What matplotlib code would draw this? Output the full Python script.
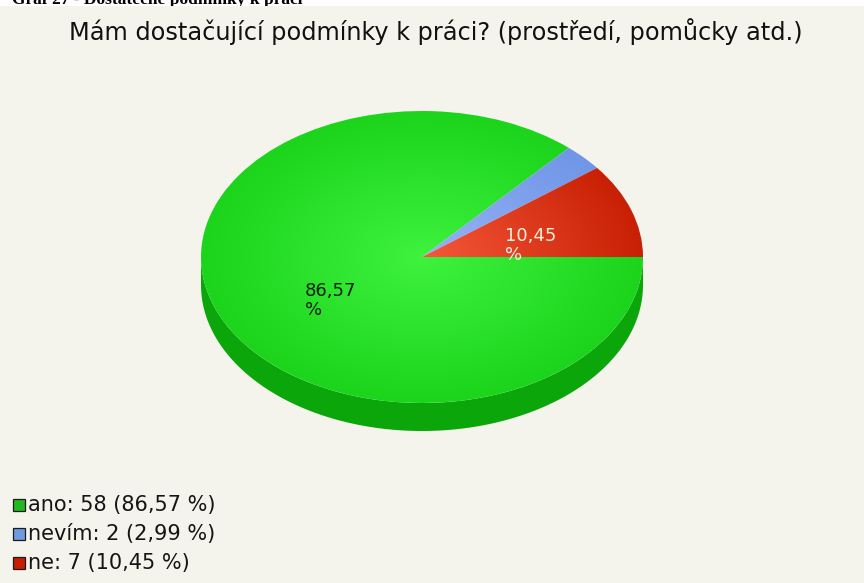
import numpy as np
import matplotlib
matplotlib.use("Agg")
import matplotlib.pyplot as plt
from matplotlib.patches import Polygon, Rectangle
from matplotlib.transforms import Bbox, TransformedBbox

# ---- data ----
categories = ["ano", "nevím", "ne"]
counts = [58, 2, 7]
percents = ["86,57", "2,99", "10,45"]
title = "Mám dostačující podmínky k práci? (prostředí, pomůcky atd.)"
caption = "Graf 27 - Dostatečné podmínky k práci"

# ---- style ----
W, H = 864, 583
bg = "#f4f3ec"
top_colors = [((62, 242, 62), (28, 212, 28)),
              ((150, 178, 244), (112, 150, 232)),
              ((246, 88, 58), (200, 32, 4))]
legend_colors = ["#22b822", "#6e9ae0", "#c81e00"]
side_color = "#0aa60a"

fig = plt.figure(figsize=(W / 100, H / 100), dpi=100)
fig.patch.set_facecolor("white")

def fx(px):
    return px / W

def fy(py):
    return 1 - py / H

# beige chart background below a thin white strip
fig.patches.append(Rectangle((0, 0), 1, fy(6), transform=fig.transFigure,
                             facecolor=bg, edgecolor="none", zorder=-5))

# cut-off caption at the top (as in the reference)
cap = fig.text(fx(12), fy(4), caption, family="Liberation Serif",
               weight="bold", fontsize=12.5, ha="left", va="baseline",
               color="black")
cap.set_clip_box(TransformedBbox(Bbox([[0, fy(6)], [1, 1]]), fig.transFigure))
cap.set_clip_on(True)

# title
fig.text(fx(436), fy(40), title, family="DejaVu Sans", fontsize=17.3,
         ha="center", va="baseline", color="#111111")

# ---- pie (elliptical with depth) ----
left, right, top, face_bottom, side_bottom = 201, 643, 111, 403, 431
ry_px = (face_bottom - top) / 2
depth = (side_bottom - face_bottom) / ry_px
ax = fig.add_axes([fx(left), fy(side_bottom), (right - left) / W,
                   (side_bottom - top) / H])
ax.set_facecolor("none")

th = np.linspace(np.pi, 2 * np.pi, 200)
side_pts = np.concatenate([np.c_[np.cos(th), np.sin(th)],
                           np.c_[np.cos(th[::-1]), np.sin(th[::-1]) - depth]])
ax.add_patch(Polygon(side_pts, closed=True, facecolor=side_color,
                     edgecolor="none", zorder=1))

wedges, _ = ax.pie(counts, startangle=0, counterclock=False, radius=1,
                   colors=["none"] * 3, wedgeprops=dict(linewidth=0))

yy, xx = np.mgrid[1:-1:300j, -1:1:300j]
rr = np.clip(np.sqrt(xx ** 2 + yy ** 2), 0, 1)
for w, (c0, c1) in zip(wedges, top_colors):
    c0 = np.array(c0) / 255.0
    c1 = np.array(c1) / 255.0
    img = c0[None, None, :] * (1 - rr[..., None]) + c1[None, None, :] * rr[..., None]
    im = ax.imshow(img, extent=(-1, 1, -1, 1), zorder=2, interpolation="bilinear")
    im.set_clip_path(w)
    w.set_zorder(3)

ax.set_aspect("auto")
ax.set_xlim(-1, 1)
ax.set_ylim(-1 - depth, 1)
ax.axis("off")

# percentage labels on slices
cx, cy = (left + right) / 2, (top + face_bottom) / 2
rx_px = (right - left) / 2

def to_data(px, py):
    return (px - cx) / rx_px, (cy - py) / ry_px

for (px, py), txt, col in [((305, 282), percents[0], "#0c1f0c"),
                           ((505, 227), percents[2], "#f6f0dc")]:
    x, y = to_data(px, py)
    ax.text(x, y, txt + "\n%", family="DejaVu Sans", fontsize=13,
            ha="left", va="top", color=col, linespacing=1.05, zorder=5)

# ---- legend ----
row_y = [505, 534, 563]
for cat, n, p, col, yy_ in zip(categories, counts, percents, legend_colors, row_y):
    fig.patches.append(Rectangle((fx(13), fy(yy_ + 6)), 12 / W, 12 / H,
                                 transform=fig.transFigure, facecolor=col,
                                 edgecolor="#1b1b1b", linewidth=0.9, zorder=2))
    fig.text(fx(28), fy(yy_), f"{cat}: {n} ({p} %)", family="DejaVu Sans",
             fontsize=15, ha="left", va="center", color="#151515")

fig.savefig("out.png", dpi=100, facecolor=fig.get_facecolor())
